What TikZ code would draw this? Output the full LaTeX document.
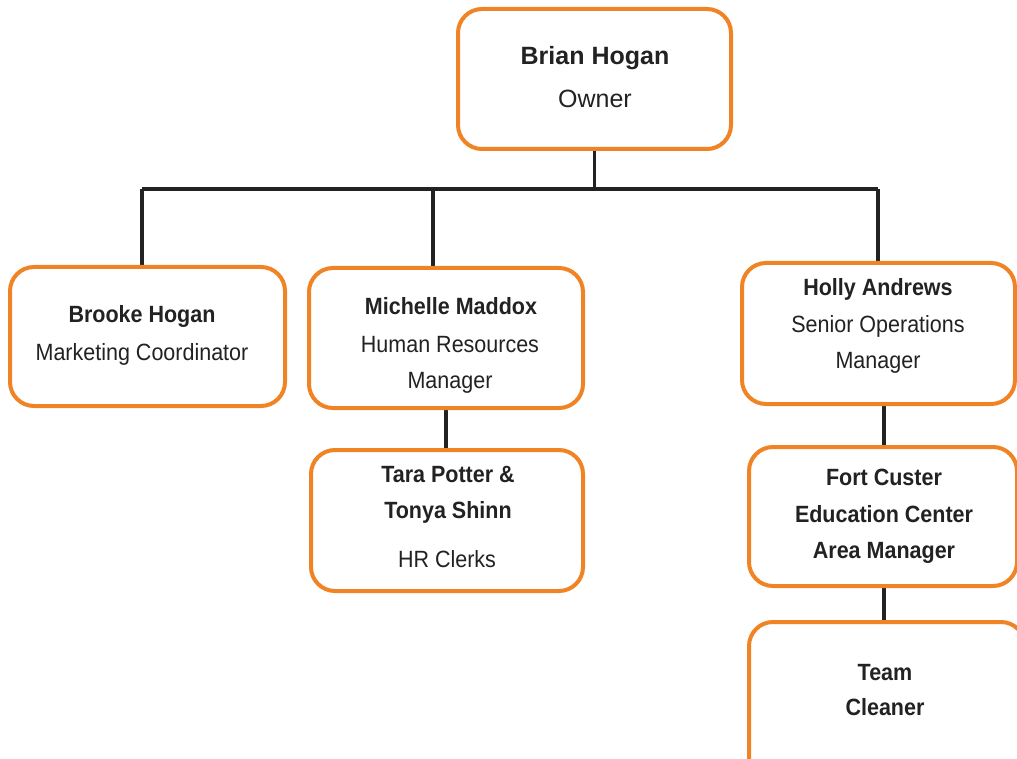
\documentclass[tikz,border=0pt]{standalone}
\usepackage{fontspec}
\setmainfont{Liberation Sans}
\newfontfamily\narrowsans[FakeStretch=0.915]{Liberation Sans}
\usetikzlibrary{backgrounds}
\definecolor{boxorange}{RGB}{240,132,36}
\definecolor{inkgray}{RGB}{34,34,34}
\begin{document}
\begin{tikzpicture}[x=1pt,y=-1pt,
  orgbox/.style={draw=boxorange, line width=4pt, rounded corners=24pt, fill=white, inner sep=0pt},
  link/.style={draw=inkgray, line width=3.5pt},
  topname/.style={font=\fontsize{25}{30}\selectfont\bfseries, text=inkgray, anchor=base, inner sep=0pt},
  toprole/.style={font=\fontsize{25}{30}\selectfont, text=inkgray, anchor=base, inner sep=0pt},
  nm/.style={font=\narrowsans\fontsize{23.5}{28}\selectfont\bfseries, text=inkgray, anchor=base, inner sep=0pt},
  rl/.style={font=\narrowsans\fontsize{23.5}{28}\selectfont, text=inkgray, anchor=base, inner sep=0pt}]
\useasboundingbox (0,0) rectangle (1017,759);
\clip (0,0) rectangle (1017,759);

% boxes
\node[orgbox, minimum width=273pt, minimum height=140pt] (owner) at (594.5,79) {};
\node[orgbox, minimum width=275pt, minimum height=139pt] (brooke) at (147.5,336.5) {};
\node[orgbox, minimum width=274pt, minimum height=140pt] (michelle) at (446,338) {};
\node[orgbox, minimum width=272pt, minimum height=141pt] (tara) at (447,520.5) {};
\node[orgbox, minimum width=273pt, minimum height=141pt] (holly) at (878.5,333.5) {};
\node[orgbox, minimum width=268pt, minimum height=139pt] (fort) at (883,516.5) {};
\node[orgbox, minimum width=276pt, minimum height=168pt] (team) at (887,706) {};

% connectors
\coordinate (barL) at (142,189);
\coordinate (barM) at (433,189);
\coordinate (barR) at (878,189);
\coordinate (dropR) at (884,0);
\begin{scope}[on background layer]
\draw[link] (barL) -- (barR);
\draw[link] (owner.south) -- (owner.south |- barL);
\draw[link] (barL) -- (barL |- brooke.north);
\draw[link] (barM) -- (barM |- michelle.north);
\draw[link] (barR) -- (barR |- holly.north);
\draw[link] (michelle.south) -- (michelle.south |- tara.north);
\draw[link] (holly.south -| dropR) -- (fort.north -| dropR);
\draw[link] (fort.south -| dropR) -- (team.north -| dropR);
\end{scope}

% texts
\node[topname] (t1a) at (595,65) {Brian Hogan};
\node[toprole] (t1b) at (595,108) {Owner};

\node[nm] (t2a) at (142,323) {Brooke Hogan};
\node[rl] (t2b) at (142,360) {Marketing Coordinator};

\node[nm] (t3a) at (451,315) {Michelle Maddox};
\node[rl] (t3b) at (450,352) {Human Resources};
\node[rl] (t3c) at (450,388) {Manager};

\node[nm] (t4a) at (448,482) {Tara Potter \&};
\node[nm] (t4b) at (448,518) {Tonya Shinn};
\node[rl] (t4c) at (447,567) {HR Clerks};

\node[nm] (t5a) at (878,295) {Holly Andrews};
\node[rl] (t5b) at (878,332) {Senior Operations};
\node[rl] (t5c) at (878,368) {Manager};

\node[nm] (t6a) at (884,485) {Fort Custer};
\node[nm] (t6b) at (884,522) {Education Center};
\node[nm] (t6c) at (884,558) {Area Manager};

\node[nm] (t7a) at (885,680) {Team};
\node[nm] (t7b) at (885,715) {Cleaner};
\end{tikzpicture}
\end{document}
